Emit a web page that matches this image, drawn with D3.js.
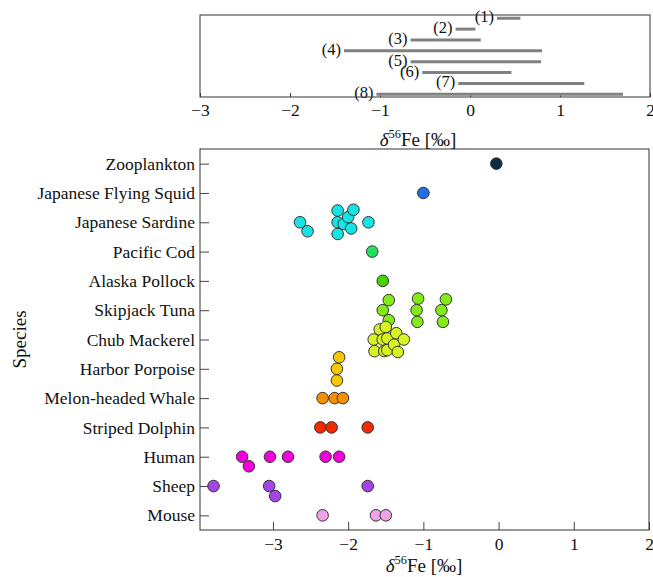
<!DOCTYPE html>
<html>
<head>
<meta charset="utf-8">
<script src="https://cdn.jsdelivr.net/npm/d3@7"></script>
<style>
  body { margin: 0; background: #fff; }
  svg text { font-family: "Liberation Serif", "Times New Roman", serif; }
</style>
</head>
<body>
<svg id="chart" width="653" height="577"></svg>
<script>
// ---- data: top panel ranges ----
var rangeLabels = ["(1)", "(2)", "(3)", "(4)", "(5)", "(6)", "(7)", "(8)"]
var rangeMin = [0.30, -0.16, -0.66, -1.40, -0.66, -0.53, -0.13, -1.04]
var rangeMax = [0.56, 0.06, 0.12, 0.80, 0.79, 0.46, 1.27, 1.70]

// ---- data: bottom panel, delta56Fe per species ----
var species = ["Zooplankton", "Japanese Flying Squid", "Japanese Sardine", "Pacific Cod",
  "Alaska Pollock", "Skipjack Tuna", "Chub Mackerel", "Harbor Porpoise",
  "Melon-headed Whale", "Striped Dolphin", "Human", "Sheep", "Mouse"]
var values = [
  [-0.03],
  [-1.00],
  [-2.64, -2.54, -2.14, -2.14, -2.14, -2.06, -2.00, -1.96, -1.93, -1.73],
  [-1.68],
  [-1.54],
  [-1.54, -1.46, -1.46, -1.09, -1.08, -1.07, -0.76, -0.74, -0.70],
  [-1.66, -1.65, -1.58, -1.54, -1.52, -1.50, -1.48, -1.48, -1.39, -1.36, -1.34, -1.26],
  [-2.15, -2.15, -2.12],
  [-2.34, -2.18, -2.07],
  [-2.37, -2.22, -1.74],
  [-3.41, -3.32, -3.04, -2.80, -2.30, -2.12],
  [-3.79, -3.05, -2.97, -1.74],
  [-2.34, -1.63, -1.50]
]
var colors = ["#0c2b45", "#1c6fe6", "#16e4e4", "#24e060", "#46d400", "#84ea1a",
  "#d8f224", "#f6c800", "#f69000", "#f62a00", "#f000d8", "#a444e8", "#f0a2e6"]

var svg = d3.select("#chart")
var fs = 17.5

// ---------- top panel ----------
var topBox = { left: 200, right: 650, top: 15, bottom: 97 }
var xTop = d3.scaleLinear().domain([-3, 2]).range([topBox.left, topBox.right])
var yTop = d3.scaleLinear().domain([0.7, 8.25]).range([topBox.top, topBox.bottom])

function styleAxis(g) {
  g.attr("font-family", null)
  g.select(".domain").remove()
  g.selectAll("text").attr("font-size", fs).attr("fill", "#111")
  g.selectAll("line").attr("stroke", "#444")
}

svg.append("g")
  .attr("transform", "translate(0," + topBox.bottom + ")")
  .call(d3.axisBottom(xTop).ticks(5).tickFormat(d3.format("d")).tickSizeInner(-4).tickSizeOuter(0).tickPadding(6.5))
  .call(styleAxis)

svg.selectAll(".rng")
  .data(rangeLabels)
  .enter()
  .append("line")
  .attr("class", "rng")
  .attr("x1", (d, i) => xTop(rangeMin[i]))
  .attr("x2", (d, i) => xTop(rangeMax[i]))
  .attr("y1", (d, i) => yTop(i + 1))
  .attr("y2", (d, i) => yTop(i + 1))
  .attr("stroke", "#808080")
  .attr("stroke-width", 3)

svg.selectAll(".rngLab")
  .data(rangeLabels)
  .enter()
  .append("text")
  .attr("class", "rngLab")
  .attr("x", (d, i) => xTop(rangeMin[i]) - 3)
  .attr("y", (d, i) => yTop(i + 1) + 4)
  .attr("text-anchor", "end")
  .attr("font-size", 16.5)
  .attr("fill", "#111")
  .text(d => d)

svg.append("rect")
  .attr("x", topBox.left).attr("y", topBox.top)
  .attr("width", topBox.right - topBox.left).attr("height", topBox.bottom - topBox.top)
  .attr("fill", "none").attr("stroke", "#333")

function axisTitle(x, y) {
  var t = svg.append("text").attr("x", x).attr("y", y)
    .attr("text-anchor", "middle").attr("font-size", 19).attr("fill", "#111")
  t.append("tspan").attr("font-style", "italic").text("δ")
  t.append("tspan").attr("font-size", 12.5).attr("dy", -8).text("56")
  t.append("tspan").attr("dy", 8).text("Fe [‰]")
}
axisTitle(418, 146)

// ---------- bottom panel ----------
var bot = { left: 200, right: 649, top: 149, bottom: 530 }
var x = d3.scaleLinear().domain([-3.97, 2]).range([bot.left, bot.right])
var y = d3.scalePoint().domain(species).range([bot.top, bot.bottom]).padding(0.5)

svg.append("g")
  .attr("transform", "translate(0," + bot.bottom + ")")
  .call(d3.axisBottom(x).tickValues([-3, -2, -1, 0, 1, 2]).tickFormat(d3.format("d")).tickSizeInner(-8).tickSizeOuter(0).tickPadding(8))
  .call(styleAxis)

svg.append("g")
  .attr("transform", "translate(" + bot.left + ",0)")
  .call(d3.axisLeft(y).tickSizeInner(-9).tickSizeOuter(0).tickPadding(5))
  .call(styleAxis)

svg.append("rect")
  .attr("x", bot.left).attr("y", bot.top)
  .attr("width", bot.right - bot.left).attr("height", bot.bottom - bot.top)
  .attr("fill", "none").attr("stroke", "#333")

// soft swarm layout: offsets in px off the row line
var D = 11.7, T = 8, maxOff = 12.5
function swarm(vals) {
  var pts = vals.map(v => ({ v: v, px: x(v), off: 0 })).sort((a, b) => a.px - b.px)
  var placed = []
  pts.forEach(function(p) {
    var nb = placed.filter(q => Math.abs(q.px - p.px) < D)
    var cands = [0]
    nb.forEach(function(q) {
      var dy = Math.sqrt(D * D - (q.px - p.px) * (q.px - p.px))
      cands.push(q.off + dy, q.off - dy)
    })
    cands = cands.filter(c => Math.abs(c) <= maxOff)
    cands.push(maxOff, -maxOff)
    cands = cands.map((c, k) => [c, k]).sort((a, b) => (Math.abs(a[0]) - Math.abs(b[0])) || (a[1] - b[1])).map(c => c[0])
    var best = null, bestD = -1
    for (var c of cands) {
      var md = d3.min(nb, q => Math.hypot(q.px - p.px, q.off - c))
      if (md === undefined || md >= T) { best = c; break }
      if (md > bestD) { bestD = md; best = c }
    }
    p.off = best
    placed.push(p)
  })
  return pts
}

var dots = []
species.forEach(function(s, i) {
  swarm(values[i]).forEach(p => dots.push({ s: s, v: p.v, off: p.off, c: colors[i] }))
})

svg.selectAll("circle")
  .data(dots)
  .enter()
  .append("circle")
  .attr("cx", d => x(d.v))
  .attr("cy", d => y(d.s) + d.off)
  .attr("r", 5.8)
  .attr("fill", d => d.c)
  .attr("stroke", "#333")
  .attr("stroke-width", 1)

axisTitle(424, 572)

svg.append("text")
  .attr("transform", "rotate(-90)")
  .attr("x", -(bot.top + bot.bottom) / 2)
  .attr("y", 26)
  .attr("text-anchor", "middle")
  .attr("font-size", 19)
  .attr("fill", "#111")
  .text("Species")
</script>
</body>
</html>
